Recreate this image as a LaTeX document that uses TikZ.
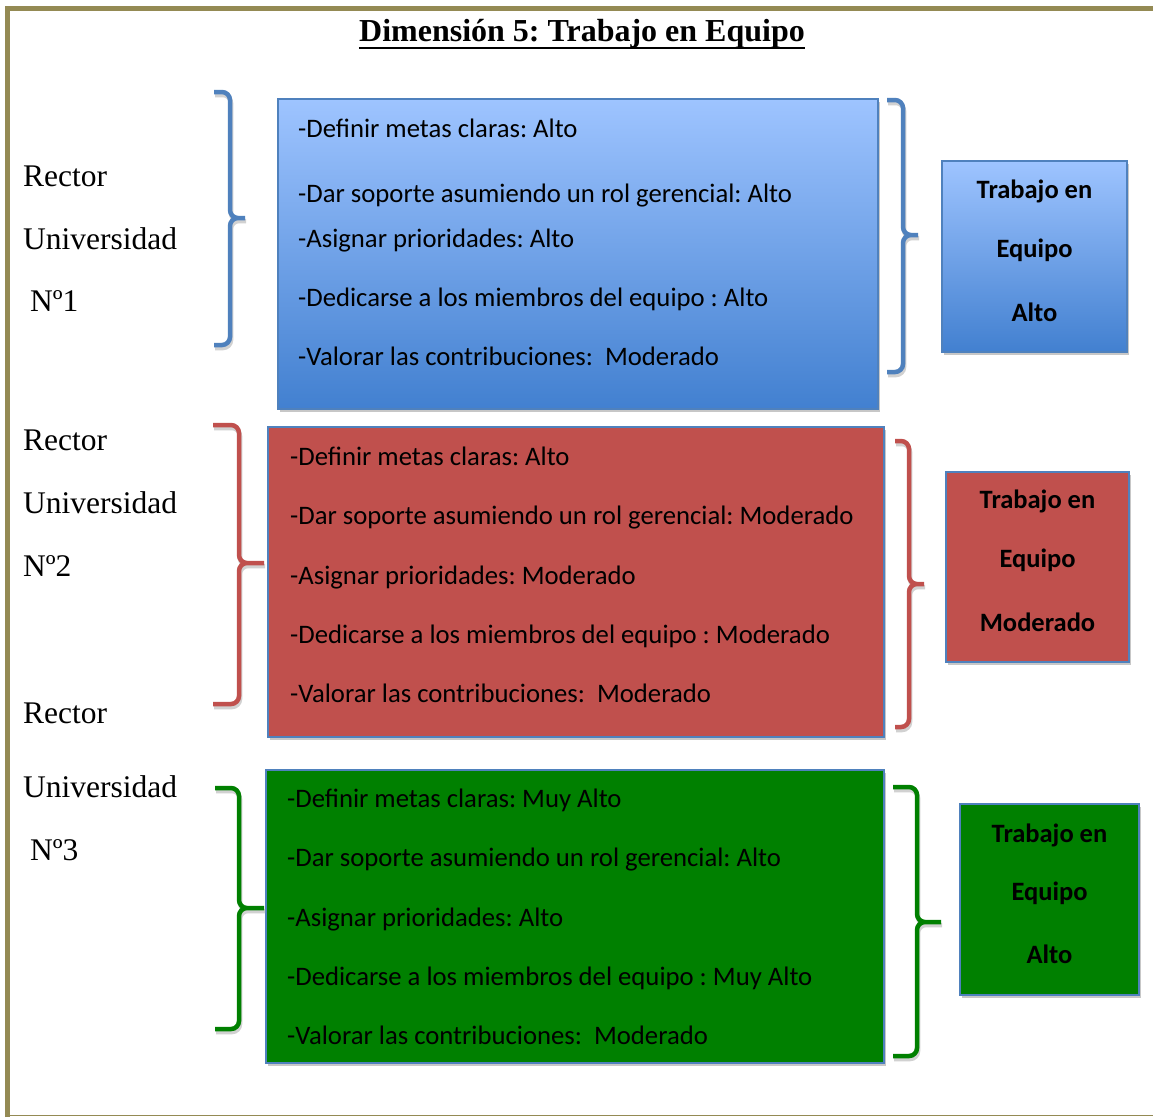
\documentclass[tikz,border=0pt]{standalone}
\usepackage{fontspec}
\setmainfont{Liberation Serif}
\newfontfamily\calfont{Carlito}
\usetikzlibrary{shadows}
\frenchspacing
\definecolor{olivebd}{HTML}{948A54}
\definecolor{bluebd}{HTML}{4F81BD}
\definecolor{redf}{HTML}{C0504D}
\definecolor{greenf}{HTML}{008000}
\definecolor{bluetop}{RGB}{158,196,255}
\definecolor{bluebot}{RGB}{66,128,208}
\newcommand\drawbrace[7]{%
  \draw[braceshadow] (#2,#4) -- (#3,#4) -- (#3,#5) -- (#6,#5) (#2,#7) -- (#3,#7) -- (#3,#5) -- (#6,#5);
  \draw[bracepath,draw=#1] (#2,#4) -- (#3,#4) -- (#3,#5) -- (#6,#5) (#2,#7) -- (#3,#7) -- (#3,#5) -- (#6,#5);
}
\begin{document}
\frenchspacing
\begin{tikzpicture}[x=1pt,y=-1pt,
  boxstyle/.style={draw=bluebd, line width=1.5pt, inner sep=0pt,
    drop shadow={shadow xshift=2pt, shadow yshift=-3pt, fill=black!22, opacity=1}},
  bluegrad/.style={boxstyle, top color=bluetop, bottom color=bluebot},
  redbox/.style={boxstyle, fill=redf},
  greenbox/.style={boxstyle, fill=greenf},
  item/.style={anchor=base west, inner sep=0pt, font=\calfont\fontsize{26.7}{30}\selectfont},
  restxt/.style={anchor=base, inner sep=0pt, font=\calfont\bfseries\fontsize{26.5}{30}\selectfont},
  rector/.style={anchor=base west, inner sep=0pt, font=\fontsize{31.5}{36}\selectfont},
  bracepath/.style={line width=4.5pt, rounded corners=8pt},
  braceshadow/.style={line width=4.5pt, rounded corners=8pt, draw=black!18, shift={(1,3)}}
]
\useasboundingbox (0,0) rectangle (1153,1117);
\fill[white] (0,0) rectangle (1153,1117);
% frame
\draw[olivebd, line width=5pt] (7.5,1117) -- (7.5,8.5) -- (1153,8.5);
\draw[olivebd, line width=1.5pt] (7.5,1115.5) -- (1153,1115.5);
% title
\node[anchor=base, inner sep=0pt, font=\bfseries\fontsize{32}{36}\selectfont] (title) at (582,41) {Dimensión 5: Trabajo en Equipo};
\draw[line width=2pt] ([yshift=-7pt]title.base west) -- ([yshift=-7pt]title.base east);

% rector labels
\node[rector] (r1a) at (23,186) {Rector};
\node[rector] (r1b) at (23,249) {Universidad};
\node[rector] (r1c) at (30,311) {Nº1};
\node[rector] (r2a) at (23,450) {Rector};
\node[rector] (r2b) at (23,513) {Universidad};
\node[rector] (r2c) at (23,576) {Nº2};
\node[rector] (r3a) at (23,723) {Rector};
\node[rector] (r3b) at (23,797) {Universidad};
\node[rector] (r3c) at (30,860) {Nº3};

% main boxes
\node[bluegrad, minimum width=600pt, minimum height=310pt] (b1) at (578,254) {};
\node[redbox, minimum width=616pt, minimum height=310pt] (b2) at (576,582) {};
\node[greenbox, minimum width=618pt, minimum height=293pt] (b3) at (575,916.5) {};

% result boxes
\node[bluegrad, minimum width=185pt, minimum height=191pt] (c1) at (1034.5,256.5) {};
\node[redbox, minimum width=183pt, minimum height=190pt] (c2) at (1037.5,567) {};
\node[greenbox, minimum width=179pt, minimum height=191pt] (c3) at (1049.5,899.5) {};

% braces
\drawbrace{bluebd}{214}{230}{92}{218}{245}{345}
\drawbrace{bluebd}{887}{903}{100}{235}{918}{372}
\drawbrace{redf}{213}{239}{425}{563}{264}{704}
\drawbrace{redf}{895}{909}{441}{584}{924}{727}
\drawbrace{greenf}{215}{239}{788}{908}{264}{1029}
\drawbrace{greenf}{893}{917}{787}{922}{941}{1056}

% blue items
\node[item] (t11) at (298,137) {-Definir metas claras: Alto};
\node[item] (t12) at (298,202) {-Dar soporte asumiendo un rol gerencial: Alto};
\node[item] (t13) at (298,247) {-Asignar prioridades: Alto};
\node[item] (t14) at (298,306) {-Dedicarse a los miembros del equipo : Alto};
\node[item] (t15) at (298,365) {-Valorar las contribuciones:\ \ Moderado};
% red items
\node[item] (t21) at (290,465) {-Definir metas claras: Alto};
\node[item] (t22) at (290,524) {-Dar soporte asumiendo un rol gerencial: Moderado};
\node[item] (t23) at (290,584) {-Asignar prioridades: Moderado};
\node[item] (t24) at (290,643) {-Dedicarse a los miembros del equipo : Moderado};
\node[item] (t25) at (290,702) {-Valorar las contribuciones:\ \ Moderado};
% green items
\node[item] (t31) at (287,807) {-Definir metas claras: Muy Alto};
\node[item] (t32) at (287,866) {-Dar soporte asumiendo un rol gerencial: Alto};
\node[item] (t33) at (287,926) {-Asignar prioridades: Alto};
\node[item] (t34) at (287,985) {-Dedicarse a los miembros del equipo : Muy Alto};
\node[item] (t35) at (287,1044) {-Valorar las contribuciones:\ \ Moderado};

% result texts
\node[restxt] (s11) at (1034.5,198) {Trabajo en};
\node[restxt] (s12) at (1034.5,257) {Equipo};
\node[restxt] (s13) at (1034.5,321) {Alto};
\node[restxt] (s21) at (1037.5,508) {Trabajo en};
\node[restxt] (s22) at (1037.5,567) {Equipo};
\node[restxt] (s23) at (1037.5,631) {Moderado};
\node[restxt] (s31) at (1049.5,842) {Trabajo en};
\node[restxt] (s32) at (1049.5,900) {Equipo};
\node[restxt] (s33) at (1049.5,963) {Alto};
\end{tikzpicture}
\end{document}
